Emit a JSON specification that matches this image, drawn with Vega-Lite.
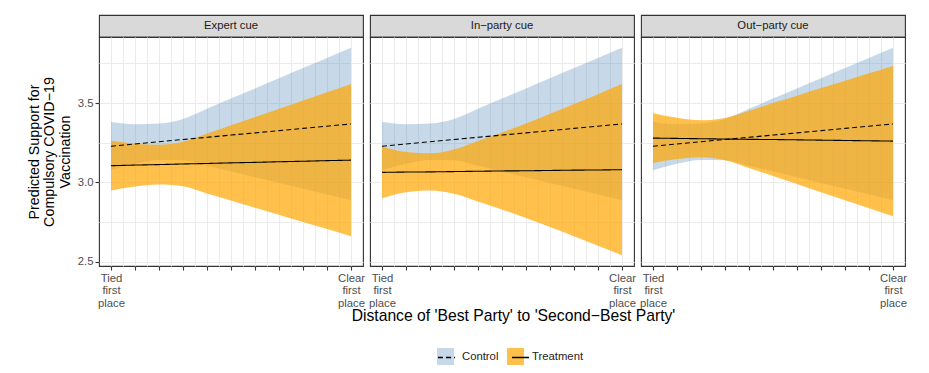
{
  "$schema": "https://vega.github.io/schema/vega-lite/v6.json",
  "padding": {"left": 27, "top": 14, "right": 5, "bottom": 5},
  "config": {
    "font": "Liberation Sans",
    "view": {"stroke": "#333333", "strokeWidth": 1.1},
    "axis": {
      "labelFont": "Liberation Sans", "titleFont": "Liberation Sans",
      "gridColor": "#EBEBEB", "gridWidth": 1.1,
      "tickColor": "#333333", "tickWidth": 1.1, "tickSize": 4,
      "labelColor": "#4D4D4D", "labelFontSize": 11.3,
      "domain": false, "titleFontWeight": "normal", "titleColor": "#000000"
    },
    "legend": {"labelFont": "Liberation Sans", "labelFontSize": 11.3, "labelColor": "#222222", "padding": 0}
  },
  "datasets": {
    "control": [
      {"group": "Control", "x": 0.0, "mean": 3.228, "lo": 3.076, "hi": 3.380},
      {"group": "Control", "x": 0.1, "mean": 3.242, "lo": 3.117, "hi": 3.367},
      {"group": "Control", "x": 0.2, "mean": 3.256, "lo": 3.141, "hi": 3.371},
      {"group": "Control", "x": 0.3, "mean": 3.270, "lo": 3.140, "hi": 3.400},
      {"group": "Control", "x": 0.4, "mean": 3.284, "lo": 3.104, "hi": 3.464},
      {"group": "Control", "x": 0.5, "mean": 3.298, "lo": 3.068, "hi": 3.528},
      {"group": "Control", "x": 0.6, "mean": 3.312, "lo": 3.032, "hi": 3.592},
      {"group": "Control", "x": 0.7, "mean": 3.326, "lo": 2.996, "hi": 3.656},
      {"group": "Control", "x": 0.8, "mean": 3.340, "lo": 2.960, "hi": 3.720},
      {"group": "Control", "x": 0.9, "mean": 3.354, "lo": 2.924, "hi": 3.784},
      {"group": "Control", "x": 1.0, "mean": 3.368, "lo": 2.888, "hi": 3.848}
    ],
    "treat": [
      {"cue": "Expert cue", "group": "Treatment", "x": 0.0, "mean": 3.105, "lo": 2.948, "hi": 3.262},
      {"cue": "Expert cue", "group": "Treatment", "x": 0.1, "mean": 3.109, "lo": 2.974, "hi": 3.244},
      {"cue": "Expert cue", "group": "Treatment", "x": 0.2, "mean": 3.112, "lo": 2.987, "hi": 3.237},
      {"cue": "Expert cue", "group": "Treatment", "x": 0.3, "mean": 3.116, "lo": 2.976, "hi": 3.256},
      {"cue": "Expert cue", "group": "Treatment", "x": 0.4, "mean": 3.119, "lo": 2.930, "hi": 3.308},
      {"cue": "Expert cue", "group": "Treatment", "x": 0.5, "mean": 3.123, "lo": 2.886, "hi": 3.360},
      {"cue": "Expert cue", "group": "Treatment", "x": 0.6, "mean": 3.126, "lo": 2.840, "hi": 3.412},
      {"cue": "Expert cue", "group": "Treatment", "x": 0.7, "mean": 3.130, "lo": 2.796, "hi": 3.464},
      {"cue": "Expert cue", "group": "Treatment", "x": 0.8, "mean": 3.133, "lo": 2.750, "hi": 3.516},
      {"cue": "Expert cue", "group": "Treatment", "x": 0.9, "mean": 3.137, "lo": 2.706, "hi": 3.568},
      {"cue": "Expert cue", "group": "Treatment", "x": 1.0, "mean": 3.140, "lo": 2.660, "hi": 3.620},
      {"cue": "In-party cue", "group": "Treatment", "x": 0.0, "mean": 3.063, "lo": 2.900, "hi": 3.226},
      {"cue": "In-party cue", "group": "Treatment", "x": 0.1, "mean": 3.065, "lo": 2.938, "hi": 3.192},
      {"cue": "In-party cue", "group": "Treatment", "x": 0.2, "mean": 3.066, "lo": 2.949, "hi": 3.183},
      {"cue": "In-party cue", "group": "Treatment", "x": 0.3, "mean": 3.068, "lo": 2.929, "hi": 3.207},
      {"cue": "In-party cue", "group": "Treatment", "x": 0.4, "mean": 3.070, "lo": 2.880, "hi": 3.260},
      {"cue": "In-party cue", "group": "Treatment", "x": 0.5, "mean": 3.072, "lo": 2.829, "hi": 3.315},
      {"cue": "In-party cue", "group": "Treatment", "x": 0.6, "mean": 3.073, "lo": 2.775, "hi": 3.371},
      {"cue": "In-party cue", "group": "Treatment", "x": 0.7, "mean": 3.075, "lo": 2.718, "hi": 3.432},
      {"cue": "In-party cue", "group": "Treatment", "x": 0.8, "mean": 3.077, "lo": 2.660, "hi": 3.494},
      {"cue": "In-party cue", "group": "Treatment", "x": 0.9, "mean": 3.078, "lo": 2.600, "hi": 3.556},
      {"cue": "In-party cue", "group": "Treatment", "x": 1.0, "mean": 3.080, "lo": 2.540, "hi": 3.620},
      {"cue": "Out-party cue", "group": "Treatment", "x": 0.0, "mean": 3.279, "lo": 3.122, "hi": 3.436},
      {"cue": "Out-party cue", "group": "Treatment", "x": 0.1, "mean": 3.277, "lo": 3.147, "hi": 3.407},
      {"cue": "Out-party cue", "group": "Treatment", "x": 0.2, "mean": 3.275, "lo": 3.159, "hi": 3.391},
      {"cue": "Out-party cue", "group": "Treatment", "x": 0.3, "mean": 3.273, "lo": 3.140, "hi": 3.406},
      {"cue": "Out-party cue", "group": "Treatment", "x": 0.4, "mean": 3.271, "lo": 3.091, "hi": 3.451},
      {"cue": "Out-party cue", "group": "Treatment", "x": 0.5, "mean": 3.270, "lo": 3.040, "hi": 3.500},
      {"cue": "Out-party cue", "group": "Treatment", "x": 0.6, "mean": 3.268, "lo": 2.990, "hi": 3.546},
      {"cue": "Out-party cue", "group": "Treatment", "x": 0.7, "mean": 3.266, "lo": 2.938, "hi": 3.594},
      {"cue": "Out-party cue", "group": "Treatment", "x": 0.8, "mean": 3.264, "lo": 2.888, "hi": 3.640},
      {"cue": "Out-party cue", "group": "Treatment", "x": 0.9, "mean": 3.262, "lo": 2.837, "hi": 3.687},
      {"cue": "Out-party cue", "group": "Treatment", "x": 1.0, "mean": 3.260, "lo": 2.786, "hi": 3.734}
    ]
  },
  "columns": 3,
  "spacing": {"row": 0, "column": 7},
  "bounds": "flush",
  "concat": [
    {
      "width": 264, "height": 22,
      "view": {"fill": "#D9D9D9", "stroke": "#333333", "strokeWidth": 1.1},
      "data": {"values": [{"label": "Expert cue"}]},
      "mark": {"type": "text", "fontSize": 11.3, "color": "#1A1A1A"},
      "encoding": {"text": {"field": "label", "type": "nominal"}}
    },
    {
      "width": 264, "height": 22,
      "view": {"fill": "#D9D9D9", "stroke": "#333333", "strokeWidth": 1.1},
      "data": {"values": [{"label": "In\u2212party cue"}]},
      "mark": {"type": "text", "fontSize": 11.3, "color": "#1A1A1A"},
      "encoding": {"text": {"field": "label", "type": "nominal"}}
    },
    {
      "width": 264, "height": 22,
      "view": {"fill": "#D9D9D9", "stroke": "#333333", "strokeWidth": 1.1},
      "data": {"values": [{"label": "Out\u2212party cue"}]},
      "mark": {"type": "text", "fontSize": 11.3, "color": "#1A1A1A"},
      "encoding": {"text": {"field": "label", "type": "nominal"}}
    },
    {
      "width": 264, "height": 229,
      "layer": [
        {
          "data": {"name": "control"},
          "mark": {"type": "area", "interpolate": "monotone", "opacity": 1},
          "encoding": {
            "x": {"field": "x", "type": "quantitative", "scale": {"domain": [-0.05, 1.05], "nice": false, "zero": false},
                  "axis": {"values": [0, 0.1, 0.2, 0.3, 0.4, 0.5, 0.6, 0.7, 0.8, 0.9, 1], "grid": true, "title": null, "labelFlush": false, "labelOverlap": false, "labelPadding": 2, "labelLineHeight": 12.7,
                           "labelExpr": "datum.value == 0 ? ['Tied','first','place'] : (datum.value == 1 ? ['Clear','first','place'] : '')"}},
            "y": {"field": "lo", "type": "quantitative", "scale": {"domain": [2.473, 3.916], "nice": false, "zero": false},
                  "axis": {"values": [2.5, 3, 3.5], "format": ".1f", "grid": true, "labelPadding": 2,
                           "title": ["Predicted Support for", "Compulsory COVID\u221219", "Vaccination"],
                           "titleFontSize": 14.3, "titleLineHeight": 15.3, "titlePadding": 5}},
            "y2": {"field": "hi"},
            "fill": {"field": "group", "type": "nominal",
                     "scale": {"domain": ["Control", "Treatment"], "range": ["rgba(70,130,180,0.3)", "rgba(255,165,0,0.7)"]},
                     "legend": {"orient": "none", "legendX": 338, "legendY": 333, "direction": "horizontal", "title": null,
                                "symbolType": "square", "symbolSize": 289, "symbolStrokeWidth": 0, "labelOffset": 8, "columnPadding": 8, "zindex": 0}}
          }
        },
        {
          "data": {"name": "treat"},
          "transform": [{"filter": {"field": "cue", "equal": "Expert cue"}}],
          "mark": {"type": "area", "interpolate": "monotone", "opacity": 1},
          "encoding": {
            "x": {"field": "x", "type": "quantitative", "axis": null},
            "y": {"field": "lo", "type": "quantitative", "axis": null},
            "y2": {"field": "hi"},
            "fill": {"field": "group", "type": "nominal"}
          }
        },
        {
          "data": {"name": "control"},
          "mark": {"type": "line", "stroke": "black", "strokeWidth": 1.1},
          "encoding": {
            "x": {"field": "x", "type": "quantitative",
                  "axis": {"orient": "top", "values": [0.05, 0.15, 0.25, 0.35, 0.45, 0.55, 0.65, 0.75, 0.85, 0.95], "grid": true, "labels": false, "ticks": false, "title": null}},
            "y": {"field": "mean", "type": "quantitative",
                  "axis": {"orient": "right", "values": [2.75, 3.25, 3.75], "grid": true, "labels": false, "ticks": false, "title": null}},
            "strokeDash": {"field": "group", "type": "nominal", "scale": {"range": [[5, 3], [1, 0]]},
                           "legend": {"orient": "none", "legendX": 338, "legendY": 333, "direction": "horizontal", "title": null,
                                      "symbolType": "stroke", "symbolSize": 289, "symbolStrokeColor": "black", "symbolStrokeWidth": 1.5,
                                      "labelOpacity": 0, "labelOffset": 8, "columnPadding": 8, "zindex": 1}}
          }
        },
        {
          "data": {"name": "treat"},
          "transform": [{"filter": {"field": "cue", "equal": "Expert cue"}}],
          "mark": {"type": "line", "stroke": "black", "strokeWidth": 1.1},
          "encoding": {
            "x": {"field": "x", "type": "quantitative", "axis": null},
            "y": {"field": "mean", "type": "quantitative", "axis": null},
            "strokeDash": {"field": "group", "type": "nominal"}
          }
        }
      ],
      "resolve": {"axis": {"x": "independent", "y": "independent"}}
    },
    {
      "width": 264, "height": 229,
      "layer": [
        {
          "data": {"name": "control"},
          "mark": {"type": "area", "interpolate": "monotone", "opacity": 1},
          "encoding": {
            "x": {"field": "x", "type": "quantitative", "scale": {"domain": [-0.05, 1.05], "nice": false, "zero": false},
                  "axis": {"values": [0, 0.1, 0.2, 0.3, 0.4, 0.5, 0.6, 0.7, 0.8, 0.9, 1], "grid": true, "labelFlush": false, "labelOverlap": false, "labelPadding": 2, "labelLineHeight": 12.7,
                           "labelExpr": "datum.value == 0 ? ['Tied','first','place'] : (datum.value == 1 ? ['Clear','first','place'] : '')",
                           "title": "Distance of 'Best Party' to 'Second\u2212Best Party'", "titleFontSize": 15.7, "titlePadding": 0, "titleX": 143}},
            "y": {"field": "lo", "type": "quantitative", "scale": {"domain": [2.473, 3.916], "nice": false, "zero": false},
                  "axis": {"values": [2.5, 3, 3.5], "grid": true, "labels": false, "ticks": false, "title": null}},
            "y2": {"field": "hi"},
            "fill": {"field": "group", "type": "nominal"}
          }
        },
        {
          "data": {"name": "treat"},
          "transform": [{"filter": {"field": "cue", "equal": "In-party cue"}}],
          "mark": {"type": "area", "interpolate": "monotone", "opacity": 1},
          "encoding": {
            "x": {"field": "x", "type": "quantitative", "axis": null},
            "y": {"field": "lo", "type": "quantitative", "axis": null},
            "y2": {"field": "hi"},
            "fill": {"field": "group", "type": "nominal"}
          }
        },
        {
          "data": {"name": "control"},
          "mark": {"type": "line", "stroke": "black", "strokeWidth": 1.1},
          "encoding": {
            "x": {"field": "x", "type": "quantitative",
                  "axis": {"orient": "top", "values": [0.05, 0.15, 0.25, 0.35, 0.45, 0.55, 0.65, 0.75, 0.85, 0.95], "grid": true, "labels": false, "ticks": false, "title": null}},
            "y": {"field": "mean", "type": "quantitative",
                  "axis": {"orient": "right", "values": [2.75, 3.25, 3.75], "grid": true, "labels": false, "ticks": false, "title": null}},
            "strokeDash": {"field": "group", "type": "nominal"}
          }
        },
        {
          "data": {"name": "treat"},
          "transform": [{"filter": {"field": "cue", "equal": "In-party cue"}}],
          "mark": {"type": "line", "stroke": "black", "strokeWidth": 1.1},
          "encoding": {
            "x": {"field": "x", "type": "quantitative", "axis": null},
            "y": {"field": "mean", "type": "quantitative", "axis": null},
            "strokeDash": {"field": "group", "type": "nominal"}
          }
        }
      ],
      "resolve": {"axis": {"x": "independent", "y": "independent"}}
    },
    {
      "width": 264, "height": 229,
      "layer": [
        {
          "data": {"name": "control"},
          "mark": {"type": "area", "interpolate": "monotone", "opacity": 1},
          "encoding": {
            "x": {"field": "x", "type": "quantitative", "scale": {"domain": [-0.05, 1.05], "nice": false, "zero": false},
                  "axis": {"values": [0, 0.1, 0.2, 0.3, 0.4, 0.5, 0.6, 0.7, 0.8, 0.9, 1], "grid": true, "title": null, "labelFlush": false, "labelOverlap": false, "labelPadding": 2, "labelLineHeight": 12.7,
                           "labelExpr": "datum.value == 0 ? ['Tied','first','place'] : (datum.value == 1 ? ['Clear','first','place'] : '')"}},
            "y": {"field": "lo", "type": "quantitative", "scale": {"domain": [2.473, 3.916], "nice": false, "zero": false},
                  "axis": {"values": [2.5, 3, 3.5], "grid": true, "labels": false, "ticks": false, "title": null}},
            "y2": {"field": "hi"},
            "fill": {"field": "group", "type": "nominal"}
          }
        },
        {
          "data": {"name": "treat"},
          "transform": [{"filter": {"field": "cue", "equal": "Out-party cue"}}],
          "mark": {"type": "area", "interpolate": "monotone", "opacity": 1},
          "encoding": {
            "x": {"field": "x", "type": "quantitative", "axis": null},
            "y": {"field": "lo", "type": "quantitative", "axis": null},
            "y2": {"field": "hi"},
            "fill": {"field": "group", "type": "nominal"}
          }
        },
        {
          "data": {"name": "control"},
          "mark": {"type": "line", "stroke": "black", "strokeWidth": 1.1},
          "encoding": {
            "x": {"field": "x", "type": "quantitative",
                  "axis": {"orient": "top", "values": [0.05, 0.15, 0.25, 0.35, 0.45, 0.55, 0.65, 0.75, 0.85, 0.95], "grid": true, "labels": false, "ticks": false, "title": null}},
            "y": {"field": "mean", "type": "quantitative",
                  "axis": {"orient": "right", "values": [2.75, 3.25, 3.75], "grid": true, "labels": false, "ticks": false, "title": null}},
            "strokeDash": {"field": "group", "type": "nominal"}
          }
        },
        {
          "data": {"name": "treat"},
          "transform": [{"filter": {"field": "cue", "equal": "Out-party cue"}}],
          "mark": {"type": "line", "stroke": "black", "strokeWidth": 1.1},
          "encoding": {
            "x": {"field": "x", "type": "quantitative", "axis": null},
            "y": {"field": "mean", "type": "quantitative", "axis": null},
            "strokeDash": {"field": "group", "type": "nominal"}
          }
        }
      ],
      "resolve": {"axis": {"x": "independent", "y": "independent"}}
    }
  ]
}
